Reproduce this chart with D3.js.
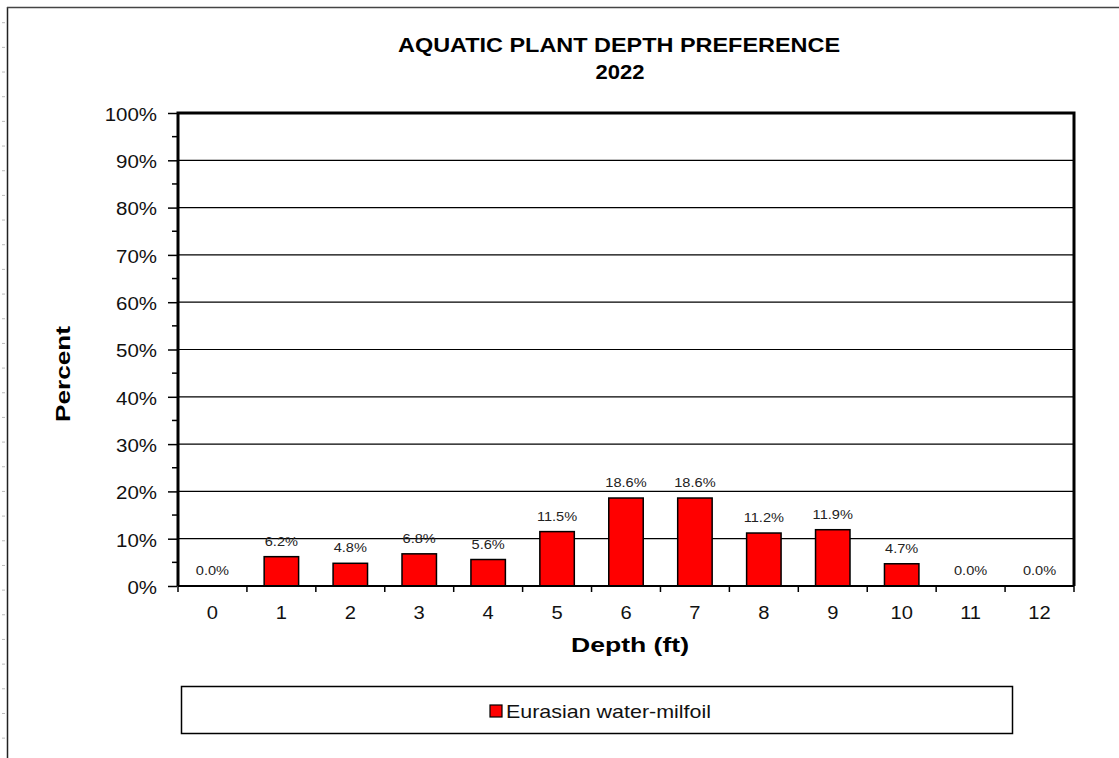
<!DOCTYPE html>
<html>
<head>
<meta charset="utf-8">
<script src="https://cdn.jsdelivr.net/npm/d3@7/dist/d3.min.js"></script>
<style>
  html, body { margin: 0; padding: 0; background: #fff; }
  svg { display: block; }
  text { font-family: "Liberation Sans", Arial, sans-serif; }
</style>
</head>
<body>
<script>
// Depth categories (ft) and share of Eurasian water-milfoil at each depth (%)
const depths = ["0", "1", "2", "3", "4", "5", "6", "7", "8", "9", "10", "11", "12"];
const milfoil = [0.0, 6.2, 4.8, 6.8, 5.6, 11.5, 18.6, 18.6, 11.2, 11.9, 4.7, 0.0, 0.0];
const yTicks = [0, 10, 20, 30, 40, 50, 60, 70, 80, 90, 100];
const seriesName = "Eurasian water-milfoil";

const W = 1119, H = 758;
const svg = d3.select("body").append("svg").attr("width", W).attr("height", H);

// widen glyphs a little so text matches the wide chart typeface
function widen(sel, factor) {
  sel.each(function () {
    const len = this.getComputedTextLength();
    d3.select(this).attr("textLength", len * factor).attr("lengthAdjust", "spacingAndGlyphs");
  });
}

// page frame with faint ruler marks on the left edge
svg.append("line").attr("x1", 7.5).attr("x2", 7.5).attr("y1", 7).attr("y2", H)
  .attr("stroke", "#222").attr("stroke-width", 1.5);
svg.append("line").attr("x1", 7).attr("x2", W).attr("y1", 7.5).attr("y2", 7.5)
  .attr("stroke", "#444").attr("stroke-width", 1.5);
svg.selectAll("line.ruler").data(d3.range(30)).join("line")
  .attr("class", "ruler")
  .attr("x1", 2).attr("x2", 5)
  .attr("y1", i => 22.7 + i * 24.67).attr("y2", i => 22.7 + i * 24.67)
  .attr("stroke", "#bbb").attr("stroke-width", 1);

const plot = { left: 178, right: 1074, top: 113, bottom: 586 };

const x = d3.scaleBand().domain(depths).range([plot.left, plot.right]).paddingInner(0).paddingOuter(0);
const y = d3.scaleLinear().domain([0, 100]).range([plot.bottom, plot.top]);

// gridlines
svg.append("g").selectAll("line").data(yTicks.filter(d => d > 0 && d < 100)).join("line")
  .attr("x1", plot.left).attr("x2", plot.right)
  .attr("y1", d => y(d)).attr("y2", d => y(d))
  .attr("stroke", "#000").attr("stroke-width", 1.2);

// bars
const barW = x.bandwidth() * 0.5;
svg.append("g").selectAll("rect").data(milfoil).join("rect")
  .attr("x", (d, i) => x(depths[i]) + (x.bandwidth() - barW) / 2)
  .attr("y", d => y(d))
  .attr("width", barW)
  .attr("height", d => y(0) - y(d))
  .attr("fill", "#ff0000")
  .attr("stroke", "#000").attr("stroke-width", 1.5);

// value labels
const vals = svg.append("g").selectAll("text").data(milfoil).join("text")
  .attr("x", (d, i) => x(depths[i]) + x.bandwidth() / 2)
  .attr("y", d => y(d) - 11)
  .attr("text-anchor", "middle")
  .attr("font-size", 13.5)
  .attr("fill", "#222")
  .text(d => d.toFixed(1) + "%");
widen(vals, 1.08);

// plot frame: heavy top, left and right edges
svg.append("path")
  .attr("d", `M${plot.left},${plot.bottom} V${plot.top} H${plot.right} V${plot.bottom}`)
  .attr("fill", "none").attr("stroke", "#000").attr("stroke-width", 3);

// y axis
const yAxis = d3.axisLeft(y).tickValues(yTicks).tickSize(9).tickPadding(11)
  .tickFormat(d => d + "%");
const gy = svg.append("g").attr("transform", `translate(${plot.left - 1},0)`).call(yAxis);
gy.select(".domain").remove();
gy.selectAll(".tick line").attr("stroke", "#000").attr("stroke-width", 1.5);
gy.selectAll(".tick text").attr("font-size", 17.5).attr("fill", "#111").attr("dy", "0.42em")
  .attr("font-family", "'Liberation Sans', Arial, sans-serif");
widen(gy.selectAll(".tick text"), 1.17);
// minor ticks at 5% steps
svg.append("g").selectAll("line").data(d3.range(5, 100, 10)).join("line")
  .attr("x1", plot.left - 6).attr("x2", plot.left)
  .attr("y1", d => y(d)).attr("y2", d => y(d))
  .attr("stroke", "#000").attr("stroke-width", 1.5);

// x axis baseline and boundary ticks
svg.append("line").attr("x1", plot.left).attr("x2", plot.right)
  .attr("y1", plot.bottom).attr("y2", plot.bottom)
  .attr("stroke", "#000").attr("stroke-width", 2);
const bounds = depths.map(d => x(d)).concat([plot.right]);
svg.append("g").selectAll("line").data(bounds).join("line")
  .attr("x1", d => d).attr("x2", d => d)
  .attr("y1", plot.bottom).attr("y2", plot.bottom + 6)
  .attr("stroke", "#000").attr("stroke-width", 1.5);
const xl = svg.append("g").selectAll("text").data(depths).join("text")
  .attr("x", d => x(d) + x.bandwidth() / 2)
  .attr("y", 618.5)
  .attr("text-anchor", "middle")
  .attr("font-size", 17.5).attr("fill", "#111")
  .text(d => d);
widen(xl, 1.15);

// titles
svg.append("text").attr("x", 619).attr("y", 52).attr("text-anchor", "middle")
  .attr("font-size", 20.5).attr("font-weight", "bold")
  .attr("textLength", 442).attr("lengthAdjust", "spacingAndGlyphs")
  .text("AQUATIC PLANT DEPTH PREFERENCE");
svg.append("text").attr("x", 620).attr("y", 79).attr("text-anchor", "middle")
  .attr("font-size", 20.5).attr("font-weight", "bold")
  .attr("textLength", 49).attr("lengthAdjust", "spacingAndGlyphs")
  .text("2022");
svg.append("text").attr("x", 630).attr("y", 652).attr("text-anchor", "middle")
  .attr("font-size", 21).attr("font-weight", "bold")
  .attr("textLength", 118).attr("lengthAdjust", "spacingAndGlyphs")
  .text("Depth (ft)");
svg.append("text").attr("transform", "translate(70,374) rotate(-90)").attr("text-anchor", "middle")
  .attr("font-size", 21).attr("font-weight", "bold")
  .attr("textLength", 96).attr("lengthAdjust", "spacingAndGlyphs")
  .text("Percent");

// legend
svg.append("rect").attr("x", 181.5).attr("y", 686.5).attr("width", 831).attr("height", 47)
  .attr("fill", "#fff").attr("stroke", "#000").attr("stroke-width", 1.5);
svg.append("rect").attr("x", 490).attr("y", 705).attr("width", 12).attr("height", 12)
  .attr("fill", "#ff0000").attr("stroke", "#000").attr("stroke-width", 1.2);
svg.append("text").attr("x", 506).attr("y", 718).attr("font-size", 18.5).attr("fill", "#111")
  .attr("textLength", 205).attr("lengthAdjust", "spacingAndGlyphs")
  .text(seriesName);
</script>
</body>
</html>
